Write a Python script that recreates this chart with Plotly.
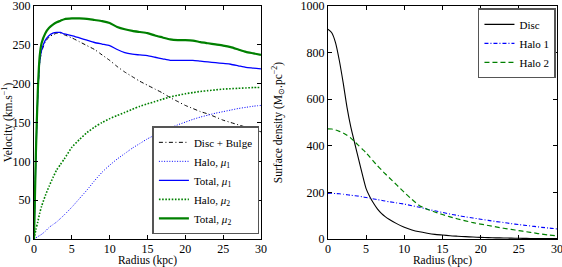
import plotly.graph_objects as go

# ---------------- Left panel: rotation curves ----------------
radius_v = [0, 0.25, 0.5, 0.75, 1, 1.5, 2, 2.5, 3, 3.5, 4, 5, 6, 7, 8, 9, 10,
            11, 12, 13, 14, 15, 16, 17, 18, 19, 20, 21, 22, 23, 24, 25, 26,
            27, 28, 29, 30]
disc_bulge = [0, 107, 184, 226, 241, 254, 260, 263, 265, 265, 263, 259, 254,
              249, 244, 237, 230, 222, 215, 209, 203, 198, 193, 188, 182, 177,
              172, 168, 164, 161, 157, 153, 150, 147, 144, 141, 138]
halo_mu1 = [0, 1.5, 3, 4.5, 6, 10, 15, 18.5, 22, 26.5, 31, 41, 52, 63, 75, 86,
            95, 103, 110, 117, 123, 129, 134, 139, 143, 147, 150.5, 154, 157,
            159.5, 162, 164, 166, 168, 169.5, 171, 172]
total_mu1 = [0, 108, 185, 228, 243, 256, 262, 265, 266, 266, 264, 262, 259,
             256, 253, 251, 249, 244, 240, 238, 237, 236, 234, 232, 230, 230,
             230, 230, 229, 228, 227, 226, 225, 223, 221, 220, 219]
halo_mu2 = [0, 12, 22, 33, 42, 56, 68, 79, 89, 96, 103, 118, 128, 137, 144,
            150, 155, 159, 163, 167, 171, 174, 177, 180, 183, 185, 187, 188.5,
            190, 191, 192, 193, 193.5, 194, 194.5, 195, 195]
total_mu2 = [0, 110, 190, 235, 252, 265, 272, 276, 279, 281, 283, 284, 284,
             283.5, 282, 280.5, 278, 273, 270, 268, 266.5, 265, 262, 259.5,
             257, 256, 256, 255.5, 253.5, 252, 250.5, 249, 247, 244, 241, 239,
             237]

# ---------------- Right panel: surface densities ----------------
radius_s = [0, 0.5, 1, 1.5, 2, 2.5, 3, 3.5, 4, 4.5, 5, 5.5, 6, 6.5, 7, 7.5, 8,
            9, 10, 11, 12, 13, 14, 15, 16, 17, 18, 19, 20, 21, 22, 23, 24, 25,
            26, 27, 28, 29, 30]
disc_sd = [900, 885, 842, 765, 670, 565, 480, 412, 345, 278, 216, 180, 152,
           128, 110, 96, 85, 66, 50, 39, 31, 25, 20, 17, 14, 12, 10, 8.5, 7,
           6, 5, 4.3, 3.7, 3, 2.6, 2.2, 1.9, 1.7, 1.5]
halo1_sd = [196, 196, 195, 194, 192, 190, 188, 186, 184, 181, 178, 175, 172,
            169, 166, 163, 160, 155, 150, 143, 136, 128, 121, 114, 107, 101,
            95, 90, 85, 80, 75, 71, 66, 62, 58, 54, 50, 47, 43]
halo2_sd = [473, 472, 468, 462, 455, 445, 433, 418, 402, 386, 370, 351, 332,
            314, 297, 280, 264, 232, 200, 170, 143, 128, 116, 105, 95, 86, 78,
            70, 64, 58, 52, 46, 41, 36, 31, 26, 21, 17, 14]

# tick values
x_ticks = [0, 5, 10, 15, 20, 25, 30]
v_ticks = [0, 50, 100, 150, 200, 250, 300]
s_ticks = [0, 200, 400, 600, 800, 1000]

SERIF = "Liberation Serif, Times New Roman, serif"
BLUE = "#0000ff"
GREEN = "#008000"

fig = go.Figure()

left_series = [
    (disc_bulge, "Disc + Bulge", "black", 1, "4px,2.5px,1px,2.5px"),
    (halo_mu1, "Halo, <i>μ</i><sub>1</sub>", BLUE, 1, "1px,1.6px"),
    (total_mu1, "Total, <i>μ</i><sub>1</sub>", BLUE, 1.3, "solid"),
    (halo_mu2, "Halo, <i>μ</i><sub>2</sub>", GREEN, 1.6, "1.6px,1.6px"),
    (total_mu2, "Total, <i>μ</i><sub>2</sub>", GREEN, 2.2, "solid"),
]
for ys, name, col, w, dash in left_series:
    fig.add_trace(go.Scatter(
        x=radius_v, y=ys, name=name, mode="lines",
        line=dict(color=col, width=w, dash=dash, shape="spline", smoothing=0.6),
        xaxis="x", yaxis="y", legend="legend"))

right_series = [
    (disc_sd, "Disc", "black", 1.1, "solid"),
    (halo1_sd, "Halo 1", BLUE, 1.1, "4px,2px,1px,2px"),
    (halo2_sd, "Halo 2", GREEN, 1.2, "5px,3px"),
]
for ys, name, col, w, dash in right_series:
    fig.add_trace(go.Scatter(
        x=radius_s, y=ys, name=name, mode="lines",
        line=dict(color=col, width=w, dash=dash, shape="spline", smoothing=0.6),
        xaxis="x2", yaxis="y2", legend="legend2"))

axis_common = dict(
    showline=True, linecolor="black", linewidth=1.2, mirror="ticks",
    ticks="inside", ticklen=4, tickwidth=0.8, tickcolor="black",
    showgrid=False, zeroline=False, automargin=False,
    ticklabeloverflow="allow",
    tickfont=dict(family=SERIF, size=12, color="black"),
)
title_font = dict(family=SERIF, size=11.5, color="black")

fig.update_layout(
    width=562, height=267,
    margin=dict(l=34, r=5, t=6, b=28),
    paper_bgcolor="white", plot_bgcolor="white",
    font=dict(family=SERIF, size=12, color="black"),
    xaxis=dict(domain=[0, 0.434], range=[0, 30], tickvals=x_ticks,
               anchor="y", ticklabelstandoff=-2,
               title=dict(text="Radius (kpc)", font=title_font),
               **axis_common),
    yaxis=dict(domain=[0, 1], range=[0, 300], tickvals=v_ticks, anchor="x",
               title=dict(text="Velocity (km.s<sup>−1</sup>)",
                          font=title_font),
               **axis_common),
    xaxis2=dict(domain=[0.562, 1], range=[0, 30], tickvals=x_ticks,
                anchor="y2", ticklabelstandoff=-2,
                title=dict(text="Radius (kpc)", font=title_font),
                **axis_common),
    yaxis2=dict(domain=[0, 1], range=[0, 1000], tickvals=s_ticks,
                anchor="x2",
                title=dict(text="Surface density (M<sub>⊙</sub>.pc<sup>−2</sup>)",
                           font=title_font),
                **axis_common),
    legend=dict(x=0.431, y=0.02, xanchor="right", yanchor="bottom",
                bgcolor="white", bordercolor="#555555", borderwidth=1.5,
                font=dict(family=SERIF, size=11), itemwidth=30,
                tracegroupgap=0),
    legend2=dict(x=0.998, y=0.99, xanchor="right", yanchor="top",
                 bgcolor="white", bordercolor="#555555", borderwidth=1.5,
                 font=dict(family=SERIF, size=11), itemwidth=30,
                 tracegroupgap=0),
    showlegend=True,
)

fig.write_html("out.html",
               config={"displayModeBar": False},
               post_script="document.body.style.margin='0px';"
                           "document.body.style.overflow='hidden';")
